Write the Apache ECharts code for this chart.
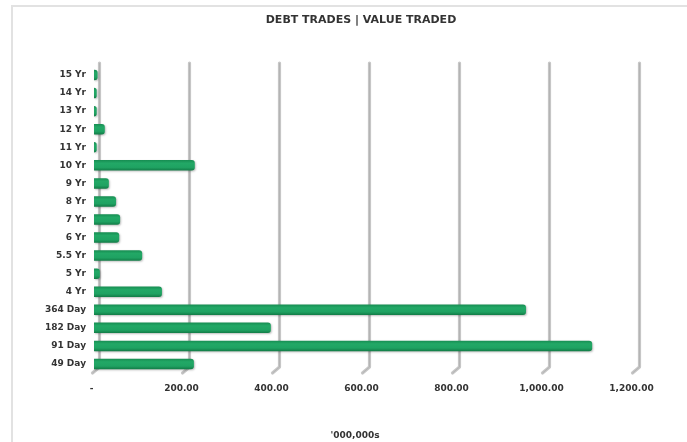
<!DOCTYPE html>
<html>
<head>
<meta charset="utf-8">
<script src="https://cdn.jsdelivr.net/npm/echarts@6/dist/echarts.min.js"></script>
<style>html,body{margin:0;padding:0;background:#fff;}#c{width:687px;height:442px;}</style>
</head>
<body>
<div id="c"></div>
<script>
const categories = ['15 Yr','14 Yr','13 Yr','12 Yr','11 Yr','10 Yr','9 Yr','8 Yr','7 Yr','6 Yr','5.5 Yr','5 Yr','4 Yr','364 Day','182 Day','91 Day','49 Day'];
const values = [8, 6, 6, 24, 6, 224, 33, 49, 58, 56, 107, 13, 151, 960, 393, 1107, 222];
const tickValues = [0, 200, 400, 600, 800, 1000, 1200];
const titleText = 'DEBT TRADES | VALUE TRADED';
const axisTitle = "'000,000s";

const chart = echarts.init(document.getElementById('c'));
const FONT = 'DejaVu Sans';
chart.setOption({
  animation: false,
  backgroundColor: '#fff',
  title: [
    { text: titleText, left: 356, top: 10, textAlign: 'center',
      textStyle: { fontFamily: FONT, fontWeight: 'bold', fontSize: 11, color: '#333' } },
    { text: axisTitle, left: 350, top: 426, textAlign: 'center',
      textStyle: { fontFamily: FONT, fontWeight: 'bold', fontSize: 9, color: '#333' } }
  ],
  graphic: [
    { type: 'polyline', shape: { points: [[12, 442], [12, 6], [687, 6]] },
      style: { stroke: '#e2e2e2', lineWidth: 2, fill: null }, silent: true, z: -10 }
  ],
  grid: { left: 94, width: 540, top: 66, height: 307, containLabel: false },
  xAxis: {
    type: 'value', min: 0, max: 1200, interval: 200,
    axisLine: { show: false }, axisTick: { show: false }, splitLine: { show: false },
    axisLabel: {
      margin: 11, padding: [0, 5, 0, 0],
      fontFamily: FONT, fontWeight: 'bold', fontSize: 9, color: '#333',
      formatter: v => v === 0 ? '-' : v.toLocaleString('en-US', { minimumFractionDigits: 2, maximumFractionDigits: 2 })
    }
  },
  yAxis: {
    type: 'category', data: categories, inverse: true,
    axisLine: { show: false }, axisTick: { show: false }, splitLine: { show: false },
    axisLabel: { margin: 8, fontFamily: FONT, fontWeight: 'bold', fontSize: 9, color: '#333' }
  },
  series: [
    {
      type: 'custom', z: 1, silent: true,
      data: tickValues,
      renderItem: function (params, api) {
        const cs = params.coordSys;
        const x = api.coord([api.value(0), 0])[0] + 5.5;
        const top = cs.y - 3;
        const bot = cs.y + cs.height - 6;
        return {
          type: 'group',
          children: [
            { type: 'polyline', shape: { points: [[x, top], [x, bot], [x - 7, bot + 6]] },
              style: { stroke: '#c6c6c6', lineWidth: 3.2, fill: null, lineCap: 'round', lineJoin: 'round' } },
            { type: 'polyline', shape: { points: [[x, top], [x, bot], [x - 7, bot + 6]] },
              style: { stroke: '#b4b4b4', lineWidth: 1, fill: null } }
          ]
        };
      }
    },
    {
      type: 'bar', z: 5, data: values, barWidth: 10.5,
      itemStyle: {
        borderRadius: [0, 3, 3, 0],
        color: new echarts.graphic.LinearGradient(0, 0, 0, 1, [
          { offset: 0, color: '#178d52' },
          { offset: 0.3, color: '#22a866' },
          { offset: 0.7, color: '#1fa262' },
          { offset: 1, color: '#127b46' }
        ]),
        shadowColor: 'rgba(0,0,0,0.25)', shadowBlur: 2, shadowOffsetX: 1, shadowOffsetY: 1
      }
    }
  ]
});
</script>
</body>
</html>
